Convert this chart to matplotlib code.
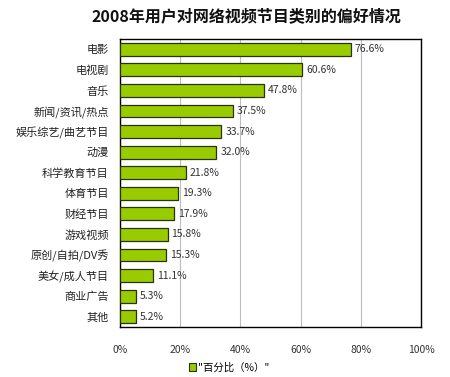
import matplotlib
matplotlib.use("Agg")
import matplotlib.pyplot as plt
from matplotlib.patches import Patch

plt.rcParams['font.family'] = ['Noto Sans CJK SC', 'DejaVu Sans']

categories = ["电影", "电视剧", "音乐", "新闻/资讯/热点", "娱乐综艺/曲艺节目", "动漫",
              "科学教育节目", "体育节目", "财经节目", "游戏视频", "原创/自拍/DV秀",
              "美女/成人节目", "商业广告", "其他"]
values = [76.6, 60.6, 47.8, 37.5, 33.7, 32.0, 21.8, 19.3, 17.9, 15.8, 15.3, 11.1, 5.3, 5.2]
xticks = [0, 20, 40, 60, 80, 100]
title = "2008年用户对网络视频节目类别的偏好情况"
legend_label = '"百分比（%）"'

fig = plt.figure(figsize=(4.5, 3.77), dpi=100)
ax = fig.add_axes([0.2667, 0.1326, 0.669, 0.764])

y = list(range(len(categories)))
ax.barh(y, values, height=0.62, color="#99cc00", edgecolor="#2a3300", linewidth=0.9, zorder=3)
for yi, v in zip(y, values):
    ax.text(v + 1.3, yi, f"{v:.1f}%", va="center", ha="left", fontsize=7.5, color="#333333", zorder=4)

ax.set_ylim(len(categories) - 0.5, -0.5)
ax.set_xlim(0, 100)
ax.set_yticks(y)
ax.set_yticklabels(categories, fontsize=8, color="#222222")
ax.set_xticks(xticks)
ax.set_xticklabels([f"{t}%" for t in xticks], fontsize=7.5, color="#333333")
ax.tick_params(axis="both", length=0)
ax.tick_params(axis="x", pad=13)
ax.tick_params(axis="y", pad=8)
ax.grid(axis="x", color="#bdbdbd", linewidth=0.8, zorder=0)
for s in ax.spines.values():
    s.set_color("black")
    s.set_linewidth(1.0)

fig.text(0.547, 0.958, title, ha="center", va="center", fontsize=11.5, fontweight="bold", color="#111111")

handle = Patch(facecolor="#99cc00", edgecolor="#2a3300", linewidth=0.8)
fig.legend([handle], [legend_label], loc="center", bbox_to_anchor=(0.51, 0.025),
           frameon=False, fontsize=7.5, handlelength=0.7, handleheight=0.7, handletextpad=0.2)

fig.savefig("out.png", dpi=100)
